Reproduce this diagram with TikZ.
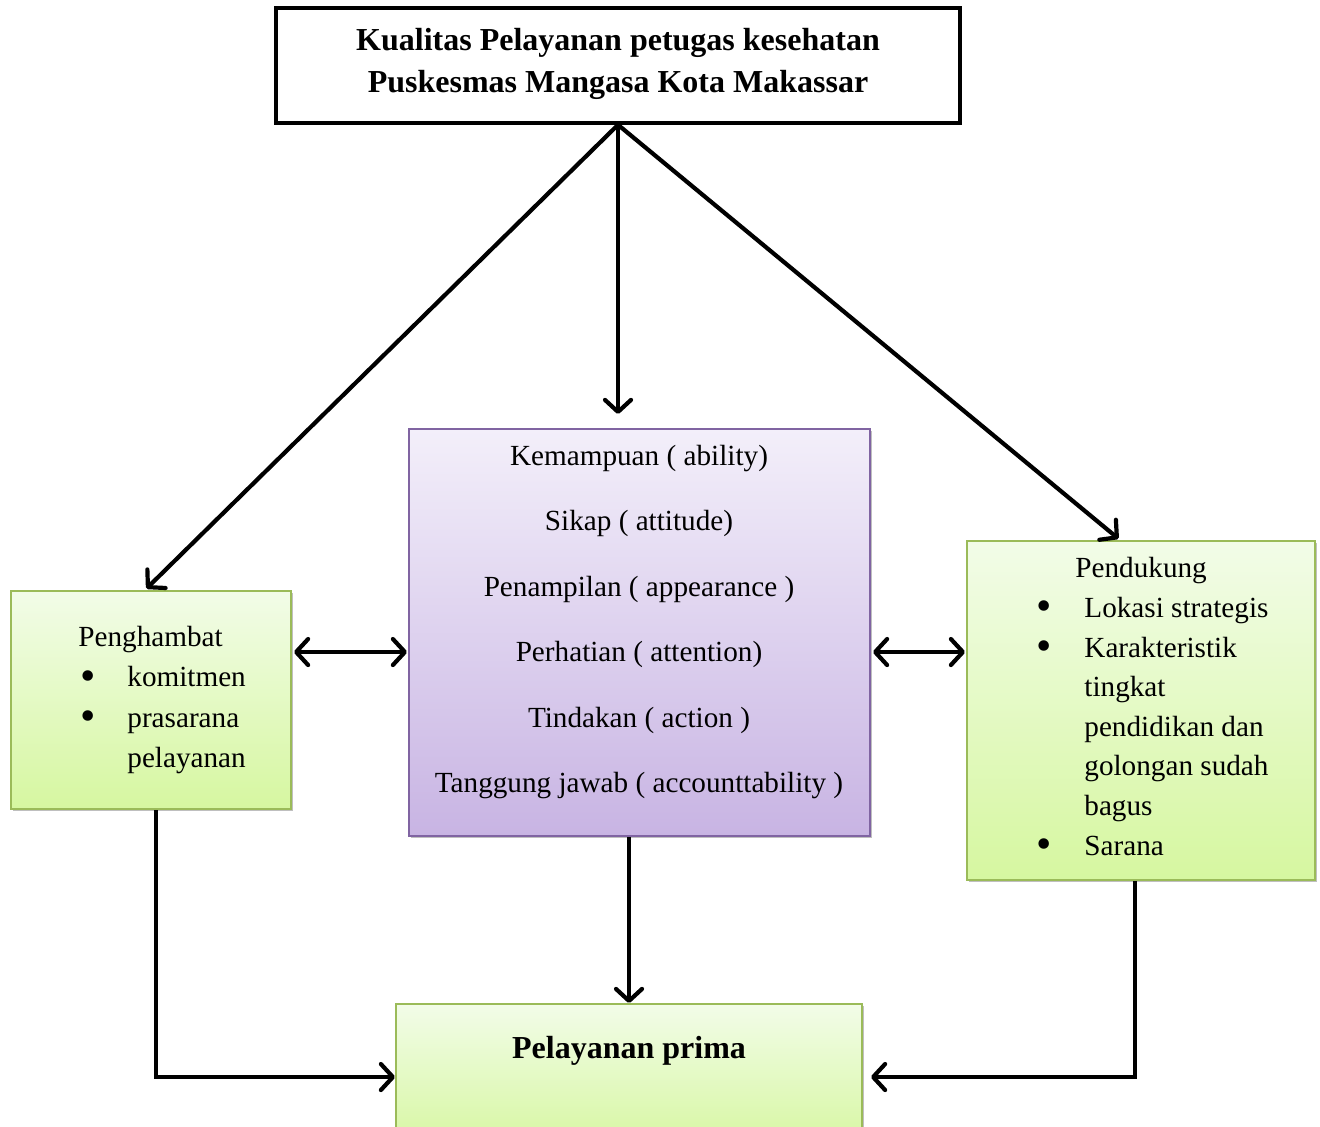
\documentclass[tikz,border=0pt]{standalone}
\usepackage{fontspec}
\setmainfont{Liberation Serif}
\usetikzlibrary{arrows.meta,shadows}
\definecolor{grnborder}{RGB}{155,187,89}
\definecolor{grntop}{RGB}{242,252,232}
\definecolor{grnbot}{RGB}{214,247,160}
\definecolor{purborder}{RGB}{128,100,162}
\definecolor{purtop}{RGB}{243,239,250}
\definecolor{purbot}{RGB}{200,180,227}
\newcommand{\bigbul}{\raisebox{-0.12em}{\scalebox{1.5}{\textbullet}}}
\begin{document}
\begin{tikzpicture}[x=0.5pt,y=-0.5pt,
  tipp/.tip={Straight Barb[length=6pt,width=13pt,round]},
  conn/.style={line width=2.1pt,-tipp},
  dconn/.style={line width=2.1pt,tipp-tipp},
  sh/.style={drop shadow={shadow xshift=1.2pt,shadow yshift=-1.2pt,opacity=0.25,fill=black}},
  greenbox/.style={draw=grnborder,line width=1pt,top color=grntop,bottom color=grnbot,sh,inner sep=0pt},
  purbox/.style={draw=purborder,line width=1pt,top color=purtop,bottom color=purbot,sh,inner sep=0pt},
  body/.style={font=\fontsize{14.6}{20}\selectfont,inner sep=0pt},
]
\clip (0,0) rectangle (1320,1126);
\fill[white] (0,0) rectangle (1320,1126);
% boxes
\node[draw,line width=1.8pt,minimum width=342pt,minimum height=57.5pt,inner sep=0pt] (title) at (618,65.5) {};
\node[purbox,minimum width=230.5pt,minimum height=203.5pt] (pur) at (639.5,632.5) {};
\node[greenbox,minimum width=140pt,minimum height=109pt] (left) at (151,700) {};
\node[greenbox,minimum width=174pt,minimum height=169.5pt] (right) at (1141,710.5) {};
\node[greenbox,minimum width=233pt,minimum height=73pt] (bot) at (629,1077) {};
% texts
\node[align=center,inner sep=0pt,font=\fontsize{16}{21}\selectfont\bfseries] (ttext) at (618,64)
  {Kualitas Pelayanan petugas kesehatan\\Puskesmas Mangasa Kota Makassar};
\node[body,align=center,font=\fontsize{14.6}{32.75}\selectfont] (ptext) at (639,622)
  {Kemampuan ( ability)\\Sikap ( attitude)\\Penampilan ( appearance )\\Perhatian ( attention)\\Tindakan ( action )\\Tanggung jawab ( accounttability )};
\node[body,align=left,anchor=west] (ltext) at (78,700)
  {Penghambat\\
   \makebox[24.5pt][l]{\hspace{1pt}\bigbul}komitmen\\
   \makebox[24.5pt][l]{\hspace{1pt}\bigbul}prasarana\\
   \hspace*{24.5pt}pelayanan};
\node[body,align=left,anchor=west,font=\fontsize{14.6}{19.8}\selectfont] (rtext) at (1036,708)
  {\hspace*{19.5pt}Pendukung\\
   \makebox[24pt][l]{\bigbul}Lokasi strategis\\
   \makebox[24pt][l]{\bigbul}Karakteristik\\
   \hspace*{24pt}tingkat\\
   \hspace*{24pt}pendidikan dan\\
   \hspace*{24pt}golongan sudah\\
   \hspace*{24pt}bagus\\
   \makebox[24pt][l]{\bigbul}Sarana};
\node[inner sep=0pt,font=\fontsize{16}{18}\selectfont\bfseries] (btext) at (629,1051) {Pelayanan prima};
% connectors
\coordinate (ya) at (0,652);
\draw[conn,shorten >=1pt] (title.south) -- ([xshift=-3pt]left.north);
\draw[conn,shorten >=7pt] (title.south) -- (title.south |- pur.north);
\draw[conn,shorten >=1pt] (title.south) -- ([xshift=-10.5pt]right.north);
\draw[dconn,shorten <=1pt,shorten >=0.5pt] (left.east |- ya) -- (pur.west |- ya);
\draw[dconn,shorten <=1pt,shorten >=0.5pt] (pur.east |- ya) -- (right.west |- ya);
\draw[conn] (pur.south -| bot.north) -- (bot.north);
\draw[conn,line join=miter] ([xshift=2.5pt]left.south) -- ([xshift=2.5pt]left.south |- bot.west) -- (bot.west);
\draw[conn,line join=miter,shorten >=4pt] ([xshift=-3pt]right.south) -- ([xshift=-3pt]right.south |- bot.east) -- (bot.east);
\end{tikzpicture}
\end{document}
